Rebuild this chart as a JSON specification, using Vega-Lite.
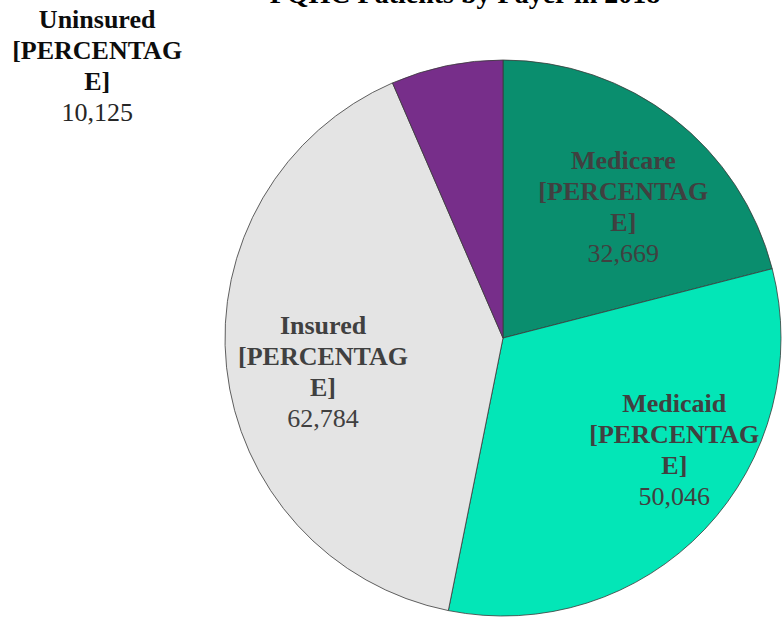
{
  "$schema": "https://vega.github.io/schema/vega-lite/v6.json",
  "width": 558,
  "height": 556,
  "padding": {"left": 224, "top": 60, "right": 0, "bottom": 4},
  "autosize": {"type": "none"},
  "background": "white",
  "config": {"view": {"stroke": null}},
  "data": {
    "values": [
      {"payer": "Medicare", "label": "Medicare\n[PERCENTAG\nE]", "patients": 32669, "rank": 1},
      {"payer": "Medicaid", "label": "Medicaid\n[PERCENTAG\nE]", "patients": 50046, "rank": 2},
      {"payer": "Insured", "label": "Insured\n[PERCENTAG\nE]", "patients": 62784, "rank": 3},
      {"payer": "Uninsured", "label": "Uninsured\n[PERCENTAG\nE]", "patients": 10125, "rank": 4}
    ]
  },
  "encoding": {
    "theta": {"field": "patients", "type": "quantitative", "stack": true},
    "order": {"field": "rank", "type": "quantitative", "sort": "ascending"}
  },
  "layer": [
    {
      "mark": {"type": "arc", "radius": 278, "stroke": "#3a3a3a", "strokeWidth": 0.8},
      "encoding": {
        "color": {
          "field": "payer",
          "type": "nominal",
          "scale": {
            "domain": ["Medicare", "Medicaid", "Insured", "Uninsured"],
            "range": ["#0A8E6E", "#03E6B7", "#E4E4E4", "#772E8A"]
          },
          "legend": null
        }
      }
    },
    {
      "data": {"values": [{"title": "FQHC Patients by Payer in 2018"}]},
      "mark": {"type": "text", "radius": 335, "font": "Liberation Serif", "fontSize": 28, "fontWeight": "bold", "align": "center", "baseline": "alphabetic", "color": "#000000", "dx": -38},
      "encoding": {"theta": {"value": 0}, "order": null, "text": {"field": "title"}}
    },
    {
      "mark": {"type": "text", "radius": 185, "font": "Liberation Serif", "fontSize": 26, "fontWeight": "bold", "lineHeight": 31, "lineBreak": "\n", "align": "center", "baseline": "alphabetic", "color": "#404040", "dx": 7, "dy": -23},
      "encoding": {"text": {"condition": {"test": "datum.payer === 'Medicare'", "field": "label"}, "value": ""}}
    },
    {
      "mark": {"type": "text", "radius": 185, "font": "Liberation Serif", "fontSize": 26, "align": "center", "baseline": "alphabetic", "color": "#404040", "dx": 7, "dy": 70},
      "encoding": {"text": {"condition": {"test": "datum.payer === 'Medicare'", "field": "patients", "format": ",d"}, "value": ""}}
    },
    {
      "mark": {"type": "text", "radius": 185, "font": "Liberation Serif", "fontSize": 26, "fontWeight": "bold", "lineHeight": 31, "lineBreak": "\n", "align": "center", "baseline": "alphabetic", "color": "#404040", "dx": 37, "dy": -53},
      "encoding": {"text": {"condition": {"test": "datum.payer === 'Medicaid'", "field": "label"}, "value": ""}}
    },
    {
      "mark": {"type": "text", "radius": 185, "font": "Liberation Serif", "fontSize": 26, "align": "center", "baseline": "alphabetic", "color": "#404040", "dx": 37, "dy": 40},
      "encoding": {"text": {"condition": {"test": "datum.payer === 'Medicaid'", "field": "patients", "format": ",d"}, "value": ""}}
    },
    {
      "mark": {"type": "text", "radius": 185, "font": "Liberation Serif", "fontSize": 26, "fontWeight": "bold", "lineHeight": 31, "lineBreak": "\n", "align": "center", "baseline": "alphabetic", "color": "#404040", "dx": 4, "dy": -23},
      "encoding": {"text": {"condition": {"test": "datum.payer === 'Insured'", "field": "label"}, "value": ""}}
    },
    {
      "mark": {"type": "text", "radius": 185, "font": "Liberation Serif", "fontSize": 26, "align": "center", "baseline": "alphabetic", "color": "#404040", "dx": 4, "dy": 70},
      "encoding": {"text": {"condition": {"test": "datum.payer === 'Insured'", "field": "patients", "format": ",d"}, "value": ""}}
    },
    {
      "mark": {"type": "text", "radius": 290, "font": "Liberation Serif", "fontSize": 26, "fontWeight": "bold", "lineHeight": 31, "lineBreak": "\n", "align": "center", "baseline": "alphabetic", "color": "#0d0d0d", "dx": -347, "dy": -26},
      "encoding": {"text": {"condition": {"test": "datum.payer === 'Uninsured'", "field": "label"}, "value": ""}}
    },
    {
      "mark": {"type": "text", "radius": 290, "font": "Liberation Serif", "fontSize": 26, "align": "center", "baseline": "alphabetic", "color": "#262626", "dx": -347, "dy": 67},
      "encoding": {"text": {"condition": {"test": "datum.payer === 'Uninsured'", "field": "patients", "format": ",d"}, "value": ""}}
    }
  ]
}
